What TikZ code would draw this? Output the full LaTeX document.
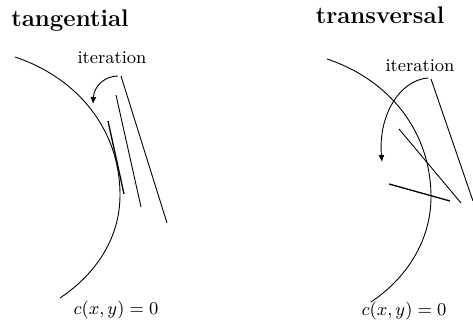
\documentclass[tikz,border=0pt]{standalone}
\usepackage{amsmath,amssymb}
\usetikzlibrary{arrows.meta}

\begin{document}
\begin{tikzpicture}[
    x=0.5pt, y=-0.5pt,
    title/.style={anchor=base, font=\large\bfseries, inner sep=0pt},
    lbl/.style={anchor=base, font=\small, inner sep=0pt},
    iterline/.style={line width=0.45pt},
    tanline/.style={line width=0.65pt},
    constr/.style={line width=0.45pt},
    arr/.style={-{Latex[length=3.5pt, width=3pt]}, line width=0.45pt}
]
\useasboundingbox (0,0) rectangle (473,326);

% tangential
\node[title] (tangtitle) at (70,27) {tangential};
\node[lbl] (tangiter) at (112,64) {iteration};
\node[lbl] (tangcurve) at (116,315) {$c(x,y) = 0$};
\draw[constr] (15,57) .. controls (78,78) and (120,130) .. (120,195)
    .. controls (120,238) and (96,274) .. (60,298);
\draw[iterline] (121,76) -- (167,223);
\draw[iterline] (116,95) -- (141,207);
\draw[tanline] (108,121) -- (124,194);
\coordinate (tangfrom) at (118,76);
\coordinate (tangto) at (93,104);
\draw[arr] (tangfrom) .. controls (105,76) and (94,86) .. (tangto);

% transversal
\node[title] (transtitle) at (380,24) {transversal};
\node[lbl] (transiter) at (420,72) {iteration};
\node[lbl] (transcurve) at (404,316) {$c(x,y) = 0$};
\draw[constr] (327,59) .. controls (390,80) and (431,132) .. (431,197)
    .. controls (431,240) and (407,278) .. (371,302);
\draw[iterline] (431,79) -- (473,201);
\draw[iterline] (399,129) -- (461,203);
\draw[tanline] (389,184) -- (450,201);
\coordinate (transfrom) at (428,78);
\coordinate (transto) at (382,162);
\draw[arr] (transfrom) .. controls (400,80) and (378,115) .. (transto);
\end{tikzpicture}
\end{document}
